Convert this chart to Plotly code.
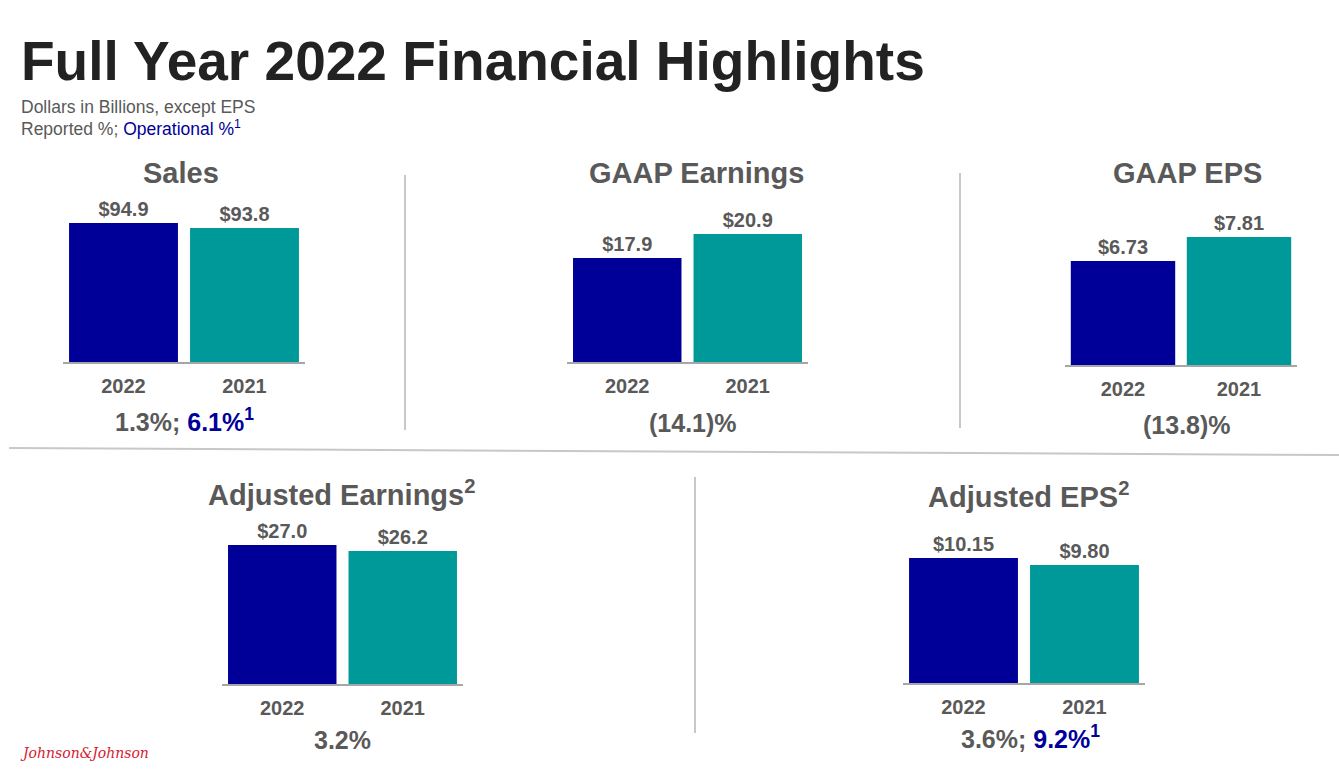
import plotly.graph_objects as go

# data
panel_titles = ["Sales", "GAAP Earnings", "GAAP EPS",
                "Adjusted Earnings<sup>2</sup>", "Adjusted EPS<sup>2</sup>"]
years = ["2022", "2021"]
values_2022 = [94.9, 17.9, 6.73, 27.0, 10.15]
values_2021 = [93.8, 20.9, 7.81, 26.2, 9.80]
decimals = [1, 1, 2, 1, 2]
reported_pct = ["1.3%", "(14.1)%", "(13.8)%", "3.2%", "3.6%"]
operational_pct = ["6.1%", "", "", "", "9.2%"]

W, H = 1339, 771
NAVY = "#000099"
TEAL = "#009999"
GREY = "#595959"
FONT = "Liberation Sans"

# layout of the five panels, in pixels of the slide
x_left = [63, 567, 1065, 222, 903]
x_right = [305, 808, 1297, 463, 1145]
base_y = [362, 362, 365, 684, 683]
PLOT_H = 160
y_ranges = [[64.3, 99.5], [4.9, 24.9], [2.05, 9.25], [8.5, 29.8], [3.9, 11.9]]
title_x = [181, 696, 1187, 341, 1028]
title_y = [173, 173, 173, 493, 495]
pct_x = [184, 693, 1187, 342, 1030]
pct_y = [420, 423, 425, 740, 737]


def px(x):
    return x / W


def py(y):
    return 1 - y / H


fig = go.Figure()
annotations = []

for i in range(5):
    n = "" if i == 0 else str(i + 1)
    labels = ["$" + format(values_2022[i], "." + str(decimals[i]) + "f"),
              "$" + format(values_2021[i], "." + str(decimals[i]) + "f")]
    fig.add_trace(go.Bar(
        x=years, y=[values_2022[i], values_2021[i]],
        xaxis="x" + n, yaxis="y" + n,
        marker=dict(color=[NAVY, TEAL], line=dict(width=0)),
        text=labels, textposition="outside", cliponaxis=False,
        textfont=dict(family=FONT, size=20, color=GREY, weight="bold"),
        showlegend=False, hoverinfo="skip",
    ))
    fig.layout["xaxis" + n] = dict(
        domain=[px(x_left[i]), px(x_right[i])], anchor="y" + n,
        showline=True, linecolor="#a6a6a6", linewidth=1.5,
        showgrid=False, zeroline=False, ticks="", ticklabelstandoff=5,
        tickfont=dict(family=FONT, size=20, color=GREY, weight="bold"),
        fixedrange=True,
    )
    fig.layout["yaxis" + n] = dict(
        domain=[py(base_y[i]), py(base_y[i] - PLOT_H)], anchor="x" + n,
        range=y_ranges[i], visible=False, fixedrange=True,
    )

    annotations.append(dict(
        text="<b>" + panel_titles[i] + "</b>", x=px(title_x[i]), y=py(title_y[i]),
        xref="paper", yref="paper", xanchor="center", yanchor="middle",
        showarrow=False, font=dict(family=FONT, size=29, color=GREY),
    ))
    pct = "<b>" + reported_pct[i]
    if operational_pct[i]:
        pct += "; <span style='color:" + NAVY + "'>" + operational_pct[i] + "<sup>1</sup></span>"
    pct += "</b>"
    annotations.append(dict(
        text=pct, x=px(pct_x[i]), y=py(pct_y[i]),
        xref="paper", yref="paper", xanchor="center", yanchor="middle",
        showarrow=False, font=dict(family=FONT, size=25, color=GREY),
    ))

# heading
annotations.append(dict(
    text="<b>Full Year 2022 Financial Highlights</b>", x=px(19), y=py(61),
    xref="paper", yref="paper", xanchor="left", yanchor="middle",
    showarrow=False, font=dict(family=FONT, size=55, color="#222222"),
))
annotations.append(dict(
    text="Dollars in Billions, except EPS", x=px(19), y=py(107),
    xref="paper", yref="paper", xanchor="left", yanchor="middle",
    showarrow=False, font=dict(family=FONT, size=17.5, color=GREY),
))
annotations.append(dict(
    text="Reported %; <span style='color:" + NAVY + "'>Operational %<sup>1</sup></span>",
    x=px(19), y=py(128),
    xref="paper", yref="paper", xanchor="left", yanchor="middle",
    showarrow=False, font=dict(family=FONT, size=17.5, color=GREY),
))
# logo
annotations.append(dict(
    text="<i>Johnson&Johnson</i>", x=px(85), y=py(753),
    xref="paper", yref="paper", xanchor="center", yanchor="middle",
    showarrow=False, font=dict(family="DejaVu Serif", size=14, color="#d51930"),
))

# divider lines
line_style = dict(color="#c8c8c8", width=2)
shapes = [
    dict(type="line", xref="paper", yref="paper", x0=px(405), x1=px(405),
         y0=py(175), y1=py(430), line=line_style),
    dict(type="line", xref="paper", yref="paper", x0=px(960), x1=px(960),
         y0=py(173), y1=py(428), line=line_style),
    dict(type="line", xref="paper", yref="paper", x0=px(695), x1=px(695),
         y0=py(477), y1=py(733), line=line_style),
    dict(type="line", xref="paper", yref="paper", x0=px(9), x1=px(1339),
         y0=py(448), y1=py(455), line=line_style),
]

fig.update_layout(
    width=W, height=H,
    margin=dict(l=0, r=0, t=0, b=0),
    paper_bgcolor="white", plot_bgcolor="white",
    bargap=0.1,
    annotations=annotations,
    shapes=shapes,
)

fig.write_html("out.html", config={"displayModeBar": False},
               post_script="document.body.style.margin='0';")
